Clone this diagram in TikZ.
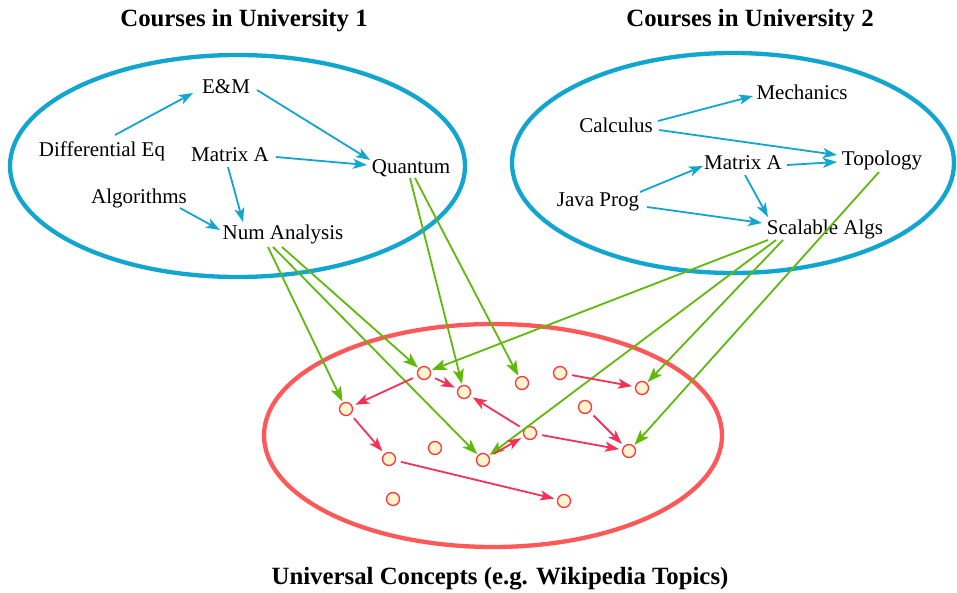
\documentclass[tikz,border=0pt]{standalone}
\usepackage{fontspec}
\setmainfont{Liberation Serif}
\usetikzlibrary{arrows.meta,calc}
\definecolor{cblue}{RGB}{18,165,208}
\definecolor{cgreen}{RGB}{95,185,10}
\definecolor{cred}{RGB}{255,88,88}
\definecolor{cdarr}{RGB}{245,50,85}
\definecolor{cdot}{RGB}{255,244,208}
\definecolor{cdotb}{RGB}{255,55,55}
\tikzset{
  lbl/.style={inner sep=0pt,font=\fontsize{21}{25}\selectfont,text height=14pt,text depth=0pt},
  ttl/.style={inner sep=0pt,font=\fontsize{24.8}{29}\selectfont\bfseries},
  dotn/.style={circle,draw=cdotb,fill=cdot,line width=1.3pt,minimum size=13pt,inner sep=0pt},
  barr/.style={draw=cblue,line width=1.8pt,-{Stealth[length=14pt,width=10pt,inset=3.5pt]}},
  garr/.style={draw=cgreen,line width=1.8pt,-{Stealth[length=15pt,width=11pt,inset=3.5pt]},shorten >=1pt},
  rarr/.style={draw=cdarr,line width=1.8pt,-{Stealth[length=14pt,width=10pt,inset=3.5pt]},shorten <=5pt,shorten >=3pt},
}
\begin{document}
\begin{tikzpicture}[x=1pt,y=-1pt]
\useasboundingbox (0,0) rectangle (957,593);
% titles
\node[ttl] (t1) at (244,21) {Courses in University 1};
\node[ttl] (t2) at (750,21) {Courses in University 2};
\node[ttl] (t3) at (500,579) {Universal Concepts (e.g. Wikipedia Topics)};
% ellipses
\draw[cblue,line width=4.3pt] (237.5,166) ellipse [x radius=227.5pt,y radius=111pt];
\draw[cblue,line width=4.3pt] (733,163) ellipse [x radius=221pt,y radius=110pt];
\draw[cred,line width=4.3pt] (493,435.5) ellipse [x radius=229pt,y radius=111.5pt];
% left nodes
\node[lbl] (em) at (226,87) {E\&M};
\node[lbl] (de) at (102,150) {Differential Eq};
\node[lbl] (ma) at (230,155) {Matrix A};
\node[lbl] (qu) at (411,167) {Quantum};
\node[lbl] (al) at (139,197) {Algorithms};
\node[lbl] (na) at (283,233) {Num Analysis};
% right nodes
\node[lbl] (me) at (802,93) {Mechanics};
\node[lbl] (ca) at (616,126) {Calculus};
\node[lbl] (to) at (882,159) {Topology};
\node[lbl] (mb) at (743,163) {Matrix A};
\node[lbl] (jp) at (598,200) {Java Prog};
\node[lbl] (sa) at (825,228) {Scalable Algs};
% dots
\node[dotn] (d1) at (424,373) {};
\node[dotn] (d2) at (464,392) {};
\node[dotn] (d3) at (522,383) {};
\node[dotn] (d4) at (560,373) {};
\node[dotn] (d5) at (642,388) {};
\node[dotn] (d6) at (346,409) {};
\node[dotn] (d7) at (585,407) {};
\node[dotn] (d8) at (530,433) {};
\node[dotn] (d9) at (629,451) {};
\node[dotn] (d10) at (435,448) {};
\node[dotn] (d11) at (389,459) {};
\node[dotn] (d12) at (483,460) {};
\node[dotn] (d13) at (393,499) {};
\node[dotn] (d14) at (564,501) {};
% blue arrows left
\draw[barr] ($(de)+(13,-15)$) -- ($(em)+(-33,6)$);
\draw[barr] ($(em)+(31,3)$) -- ($(qu)+(-41,-7)$);
\draw[barr] ($(ma)+(46,2)$) -- ($(qu)+(-44,-2)$);
\draw[barr] ($(ma)+(-2,12)$) -- ($(na)+(-40,-11)$);
\draw[barr] ($(al)+(41,11)$) -- ($(na)+(-63,-3)$);
% blue arrows right
\draw[barr] ($(ca)+(42,-5)$) -- ($(me)+(-49,3)$);
\draw[barr] ($(ca)+(43,4)$) -- ($(to)+(-45,-4)$);
\draw[barr] ($(mb)+(44,2)$) -- ($(to)+(-45,3)$);
\draw[barr] ($(jp)+(42,-8)$) -- ($(mb)+(-40,3)$);
\draw[barr] ($(jp)+(49,7)$) -- ($(sa)+(-63,-5)$);
\draw[barr] ($(mb)+(2,12)$) -- ($(sa)+(-57,-11)$);
% green arrows
\draw[garr] ($(na)+(-15,14)$) -- (d6);
\draw[garr] ($(na)+(-10,14)$) -- (d12);
\draw[garr] ($(na)+(-1,14)$) -- (d1);
\draw[garr] ($(qu)+(-1,11)$) -- (d2);
\draw[garr] ($(qu)+(4,11)$) -- (d3);
\draw[garr] ($(sa)+(-57,12)$) -- (d1);
\draw[garr] ($(sa)+(-49,12)$) -- (d12);
\draw[garr] ($(sa)+(-42,12)$) -- (d5);
\draw[garr] ($(to)+(-3,13)$) -- (d9);
% red arrows
\draw[rarr] (d1) -- (d6);
\draw[rarr] (d1) -- (d2);
\draw[rarr] (d4) -- (d5);
\draw[rarr] (d6) -- (d11);
\draw[rarr] (d8) -- (d2);
\draw[rarr] (d12) -- (d8);
\draw[rarr] (d8) -- (d9);
\draw[rarr] (d7) -- (d9);
\draw[rarr] (d11) -- (d14);
\end{tikzpicture}
\end{document}
